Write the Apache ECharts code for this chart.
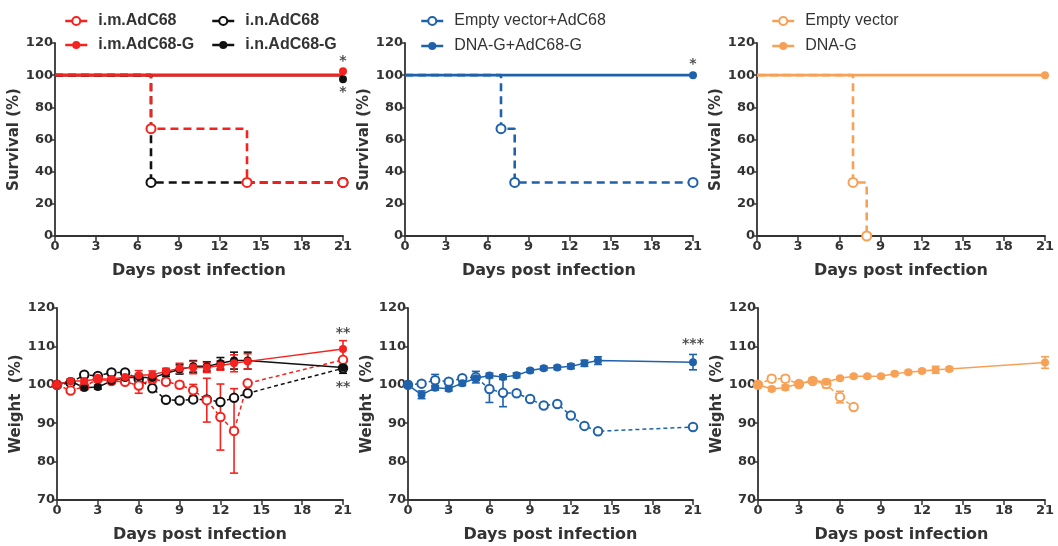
<!DOCTYPE html>
<html>
<head>
<meta charset="utf-8">
<script src="https://cdn.jsdelivr.net/npm/echarts@6/dist/echarts.min.js"></script>
<style>
  html, body { margin: 0; padding: 0; background: #fff; }
  #chart { width: 1058px; height: 546px; }
</style>
</head>
<body>
<div id="chart"></div>
<script>
// survival (Kaplan-Meier steps)
var imAdC68_sDays = [0, 7, 14, 21];
var imAdC68_s = [100, 66.7, 33.3, 33.3];
var inAdC68_sDays = [0, 7, 21];
var inAdC68_s = [100, 33.3, 33.3];
var imAdC68G_sDays = [0, 21];
var imAdC68G_s = [100, 100];
var inAdC68G_sDays = [0, 21];
var inAdC68G_s = [100, 100];

var evAdC68_sDays = [0, 7, 8, 21];
var evAdC68_s = [100, 66.7, 33.3, 33.3];
var dnaGAdC68G_sDays = [0, 21];
var dnaGAdC68G_s = [100, 100];

var ev_sDays = [0, 7, 8];
var ev_s = [100, 33.3, 0];
var dnaG_sDays = [0, 21];
var dnaG_s = [100, 100];

// weight (%), mean and error bar
var wDays = [0, 1, 2, 3, 4, 5, 6, 7, 8, 9, 10, 11, 12, 13, 14, 21];
var imAdC68G_w = [100, 101.0, 101.0, 101.5, 101.5, 102.0, 102.5, 102.6, 103.5, 104.3, 104.5, 104.5, 105.0, 105.6, 106.1, 109.3];
var imAdC68G_e = [0, 0.5, 0.5, 0.6, 0.6, 0.8, 1.2, 1.0, 0.8, 1.3, 1.6, 1.3, 1.2, 2.2, 2.0, 2.2];
var inAdC68G_w = [100, 101.0, 99.2, 99.4, 101.0, 101.8, 102.0, 101.8, 103.0, 104.0, 104.8, 104.8, 105.6, 106.3, 106.3, 104.5];
var inAdC68G_e = [0, 0.5, 0.5, 0.5, 0.5, 0.6, 0.8, 0.8, 0.8, 1.2, 1.5, 1.2, 1.5, 2.2, 2.2, 1.5];
var imAdC68_w = [100, 98.5, 99.5, 101.5, 101.0, 100.8, 99.8, 101.5, 100.8, 100.0, 98.6, 96.0, 91.6, 88.0, 100.4, 106.5];
var imAdC68_e = [0, 0.5, 0.5, 0.5, 0.5, 0.6, 2.0, 1.0, 0.8, 0.8, 1.5, 5.7, 8.6, 11.0, 0, 0];
var inAdC68_w = [100, 100.5, 102.6, 102.3, 103.2, 103.2, 101.5, 99.1, 96.1, 95.9, 96.2, 96.2, 95.5, 96.6, 97.8, 104.3];
var inAdC68_e = [0, 0.5, 0.5, 0.5, 0.5, 0.5, 0.8, 0, 0, 0, 0, 0, 0, 0, 0, 0];

var dnaGAdC68G_w = [100, 97.4, 99.2, 99.0, 100.4, 101.7, 102.4, 102.0, 102.5, 103.7, 104.3, 104.5, 104.8, 105.6, 106.3, 105.9];
var dnaGAdC68G_e = [0, 1.0, 0.6, 0.6, 0.6, 0.6, 0.6, 0.6, 0.6, 0.5, 0.5, 0.5, 0.6, 0.8, 1.0, 2.0];
var evAdC68_w = [100, 100.3, 101.2, 100.8, 101.7, 102.0, 98.9, 97.9, 97.8, 96.3, 94.6, 95.0, 92.0, 89.3, 87.9, 89.0];
var evAdC68_e = [0, 0.6, 1.5, 0.6, 0.5, 1.5, 3.5, 3.6, 0, 0, 0, 0, 0, 0, 0, 0];

var dnaG_w = [100, 98.9, 99.3, 100.3, 101.1, 100.8, 101.7, 102.2, 102.2, 102.2, 102.9, 103.3, 103.6, 103.9, 104.1, 105.8];
var dnaG_e = [0, 0.5, 0.6, 0.5, 0.7, 0.6, 0.4, 0.4, 0.4, 0.4, 0.4, 0.4, 0.4, 0.9, 0.5, 1.5];
var evDays = [0, 1, 2, 3, 4, 5, 6, 7];
var ev_w = [100, 101.6, 101.6, 100.2, 101.0, 100.2, 96.8, 94.2];
var ev_e = [0, 0.8, 0.8, 0.5, 0.5, 1.0, 1.5, 0.3];

// significance marks
var stars1 = [[21, 108.5, '*'], [21, 89, '*']];
var stars2 = [[21, 106.5, '*']];
var stars4 = [[21, 113.3, '**'], [21, 99.4, '**']];
var stars5 = [[21, 110.6, '***']];

var RED = '#f5231f', BLACK = '#111111', BLUE = '#1f62ab', ORANGE = '#f7a156';
var FONT = 'DejaVu Sans';

function pairs(x, y) {
  return x.map(function (d, i) { return [d, y[i]]; });
}

function survSeries(name, x, y, color, dashed, filled, idx, offset) {
  var data = pairs(x, y).map(function (p, i) {
    return i === 0 ? { value: p, symbol: 'none' } : p;
  });
  return {
    name: name, type: 'line', step: 'end', xAxisIndex: idx, yAxisIndex: idx,
    data: data, clip: false, showAllSymbol: true,
    symbol: filled ? 'circle' : 'emptyCircle', symbolSize: filled ? 8 : 9,
    symbolOffset: [0, offset || 0],
    lineStyle: { color: color, width: 2.6, type: dashed ? [8, 5] : 'solid' },
    itemStyle: { color: color, borderWidth: 2 },
    emphasis: { disabled: true }
  };
}

function weightSeries(name, x, y, color, dashed, filled, idx) {
  return {
    name: name, type: 'line', xAxisIndex: idx, yAxisIndex: idx,
    data: pairs(x, y), clip: false, showAllSymbol: true,
    symbol: filled ? 'circle' : 'emptyCircle', symbolSize: filled ? 8 : 8.5,
    lineStyle: { color: color, width: 1.5, type: dashed ? [4, 3] : 'solid' },
    itemStyle: { color: color, borderWidth: 1.6 },
    emphasis: { disabled: true }
  };
}

function errSeries(x, y, e, color, idx) {
  var data = [];
  x.forEach(function (d, i) {
    if (e[i] > 0) data.push([d, y[i] - e[i], y[i] + e[i]]);
  });
  return {
    type: 'custom', xAxisIndex: idx, yAxisIndex: idx, data: data,
    itemStyle: { color: color }, silent: true, clip: false,
    renderItem: function (params, api) {
      var top = api.coord([api.value(0), api.value(2)]);
      var bot = api.coord([api.value(0), api.value(1)]);
      var w = 4;
      var st = { stroke: color, lineWidth: 1.6 };
      return {
        type: 'group', children: [
          { type: 'line', shape: { x1: top[0], y1: top[1], x2: bot[0], y2: bot[1] }, style: st },
          { type: 'line', shape: { x1: top[0] - w, y1: top[1], x2: top[0] + w, y2: top[1] }, style: st },
          { type: 'line', shape: { x1: bot[0] - w, y1: bot[1], x2: bot[0] + w, y2: bot[1] }, style: st }
        ]
      };
    }
  };
}

function starSeries(data, idx) {
  return {
    type: 'scatter', xAxisIndex: idx, yAxisIndex: idx, data: data,
    symbolSize: 1, itemStyle: { color: 'rgba(0,0,0,0)' }, silent: true, clip: false,
    label: {
      show: true, position: 'inside', color: '#222', fontFamily: FONT,
      fontWeight: 'bold', fontSize: 14,
      formatter: function (p) { return p.data[2]; }
    }
  };
}

function xAxisOf(idx) {
  return {
    gridIndex: idx, type: 'value', min: 0, max: 21, interval: 3,
    name: 'Days post infection', nameLocation: 'middle', nameGap: 27,
    nameTextStyle: { fontFamily: FONT, fontWeight: 'bold', fontSize: 16, color: '#333' },
    axisLine: { show: true, onZero: false, lineStyle: { color: '#333', width: 1.8 } },
    axisTick: { show: true, length: 5, lineStyle: { color: '#333', width: 1.5 } },
    axisLabel: { fontFamily: FONT, fontWeight: 'bold', fontSize: 13, color: '#333', margin: 4 },
    splitLine: { show: false }
  };
}

function yAxisOf(idx, weight) {
  return {
    gridIndex: idx, type: 'value',
    min: weight ? 70 : 0, max: 120, interval: weight ? 10 : 20,
    name: weight ? 'Weight  (%)' : 'Survival (%)', nameLocation: 'middle', nameGap: 33,
    nameTextStyle: { fontFamily: FONT, fontWeight: 'bold', fontSize: 15, color: '#333' },
    axisLine: { show: true, onZero: false, lineStyle: { color: '#333', width: 1.8 } },
    axisTick: { show: true, length: 5, lineStyle: { color: '#333', width: 1.5 } },
    axisLabel: { fontFamily: FONT, fontWeight: 'bold', fontSize: 13, color: '#333', margin: 2 },
    splitLine: { show: false }
  };
}

function legendOf(name, left, top, bold) {
  return {
    data: [name], left: left, top: top, padding: 0, itemWidth: 22, itemHeight: 10,
    selectedMode: false, lineStyle: { type: 'solid', width: 2.5 },
    textStyle: {
      fontFamily: 'Liberation Sans',
      fontWeight: bold ? 'bold' : 'normal', fontSize: 16, color: '#333',
      padding: [0, 0, 0, 6]
    }
  };
}

var chart = echarts.init(document.getElementById('chart'));
var option = {
  animation: false,
  backgroundColor: '#fff',
  grid: [
    { left: 55, top: 43, width: 288, height: 193 },
    { left: 405, top: 43, width: 288, height: 193 },
    { left: 757, top: 43, width: 288, height: 193 },
    { left: 57, top: 308, width: 286, height: 192 },
    { left: 408, top: 308, width: 285, height: 192 },
    { left: 758, top: 308, width: 287, height: 192 }
  ],
  xAxis: [0, 1, 2, 3, 4, 5].map(xAxisOf),
  yAxis: [0, 1, 2, 3, 4, 5].map(function (i) { return yAxisOf(i, i > 2); }),
  legend: [
    legendOf('i.m.AdC68', 64, 13, true),
    legendOf('i.n.AdC68', 211, 13, true),
    legendOf('i.m.AdC68-G', 64, 37, true),
    legendOf('i.n.AdC68-G', 211, 37, true),
    legendOf('Empty vector+AdC68', 420, 13, false),
    legendOf('DNA-G+AdC68-G', 420, 38, false),
    legendOf('Empty vector', 771, 13, false),
    legendOf('DNA-G', 771, 38, false)
  ],
  series: [
    // panel 1
    survSeries('i.n.AdC68-G', inAdC68G_sDays, inAdC68G_s, BLACK, false, true, 0, 4),
    survSeries('i.m.AdC68-G', imAdC68G_sDays, imAdC68G_s, RED, false, true, 0, -4),
    survSeries('i.n.AdC68', inAdC68_sDays, inAdC68_s, BLACK, true, false, 0),
    survSeries('i.m.AdC68', imAdC68_sDays, imAdC68_s, RED, true, false, 0),
    starSeries(stars1, 0),
    // panel 2
    survSeries('Empty vector+AdC68', evAdC68_sDays, evAdC68_s, BLUE, true, false, 1),
    survSeries('DNA-G+AdC68-G', dnaGAdC68G_sDays, dnaGAdC68G_s, BLUE, false, true, 1),
    starSeries(stars2, 1),
    // panel 3
    survSeries('Empty vector', ev_sDays, ev_s, ORANGE, true, false, 2),
    survSeries('DNA-G', dnaG_sDays, dnaG_s, ORANGE, false, true, 2),
    // panel 4
    errSeries(wDays, inAdC68_w, inAdC68_e, BLACK, 3),
    weightSeries('w i.n.AdC68', wDays, inAdC68_w, BLACK, true, false, 3),
    errSeries(wDays, imAdC68_w, imAdC68_e, RED, 3),
    weightSeries('w i.m.AdC68', wDays, imAdC68_w, RED, true, false, 3),
    errSeries(wDays, inAdC68G_w, inAdC68G_e, BLACK, 3),
    weightSeries('w i.n.AdC68-G', wDays, inAdC68G_w, BLACK, false, true, 3),
    errSeries(wDays, imAdC68G_w, imAdC68G_e, RED, 3),
    weightSeries('w i.m.AdC68-G', wDays, imAdC68G_w, RED, false, true, 3),
    starSeries(stars4, 3),
    // panel 5
    errSeries(wDays, evAdC68_w, evAdC68_e, BLUE, 4),
    weightSeries('w Empty vector+AdC68', wDays, evAdC68_w, BLUE, true, false, 4),
    errSeries(wDays, dnaGAdC68G_w, dnaGAdC68G_e, BLUE, 4),
    weightSeries('w DNA-G+AdC68-G', wDays, dnaGAdC68G_w, BLUE, false, true, 4),
    starSeries(stars5, 4),
    // panel 6
    errSeries(evDays, ev_w, ev_e, ORANGE, 5),
    weightSeries('w Empty vector', evDays, ev_w, ORANGE, true, false, 5),
    errSeries(wDays, dnaG_w, dnaG_e, ORANGE, 5),
    weightSeries('w DNA-G', wDays, dnaG_w, ORANGE, false, true, 5)
  ]
};
chart.setOption(option);
</script>
</body>
</html>
